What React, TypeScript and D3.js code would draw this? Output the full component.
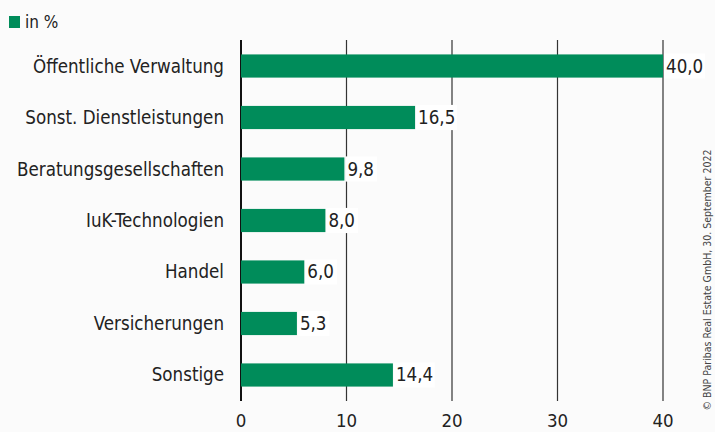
import React from "react";
import * as d3 from "d3";

const categories = [
  "Öffentliche Verwaltung",
  "Sonst. Dienstleistungen",
  "Beratungsgesellschaften",
  "IuK-Technologien",
  "Handel",
  "Versicherungen",
  "Sonstige",
];
const values = [40.0, 16.5, 9.8, 8.0, 6.0, 5.3, 14.4];
const ticks = [0, 10, 20, 30, 40];
const legendLabel = "in %";
const source = "© BNP Paribas Real Estate GmbH, 30. September 2022";

const W = 715;
const H = 432;
const green = "#008c5a";
const font = "'DejaVu Sans Condensed', 'DejaVu Sans', sans-serif";

export default function App() {
  const x = d3.scaleLinear().domain([0, 40]).range([241, 663]);
  const y = d3.scaleBand().domain(categories).range([40, 401]).paddingInner(0.55).paddingOuter(0.28);
  const fmt = (v: number) => v.toFixed(1).replace(".", ",");
  return (
    <svg width={W} height={H} style={{ position: "absolute", left: 0, top: 0, background: "#fbfbfb" }} fontFamily={font}>
      <rect x={0} y={0} width={W} height={H} fill="#fbfbfb" />
      {ticks.map((t) => (
        <g key={t}>
          <line x1={x(t)} x2={x(t)} y1={40} y2={401} stroke={t === 0 ? "#111" : "#333"} strokeWidth={t === 0 ? 2 : 1.2} />
          <text x={x(t)} y={427} textAnchor="middle" fontSize={18.5} fill="#222">{t}</text>
        </g>
      ))}
      {categories.map((c, i) => {
        const yy = y(c)!;
        const bw = y.bandwidth();
        const label = fmt(values[i]);
        const lw = label.length * 9.2 + 4;
        return (
          <g key={c}>
            <text x={224} y={yy + bw / 2 + 6.5} textAnchor="end" fontSize={18.6} fill="#222">{c}</text>
            <rect x={x(0)} y={yy} width={x(values[i]) - x(0)} height={bw} fill={green} />
            <rect x={x(values[i]) + 1} y={yy - 1} width={lw} height={bw + 2} fill="#ffffff" />
            <text x={x(values[i]) + 3} y={yy + bw / 2 + 6.5} fontSize={18.6} fill="#222">{label}</text>
          </g>
        );
      })}
      <rect x={9} y={16} width={11} height={12} fill={green} />
      <text x={25} y={28} fontSize={17} fill="#222">{legendLabel}</text>
      <text transform={`translate(711,${280}) rotate(-90)`} textAnchor="middle" fontSize={10.5} fill="#444">{source}</text>
    </svg>
  );
}
